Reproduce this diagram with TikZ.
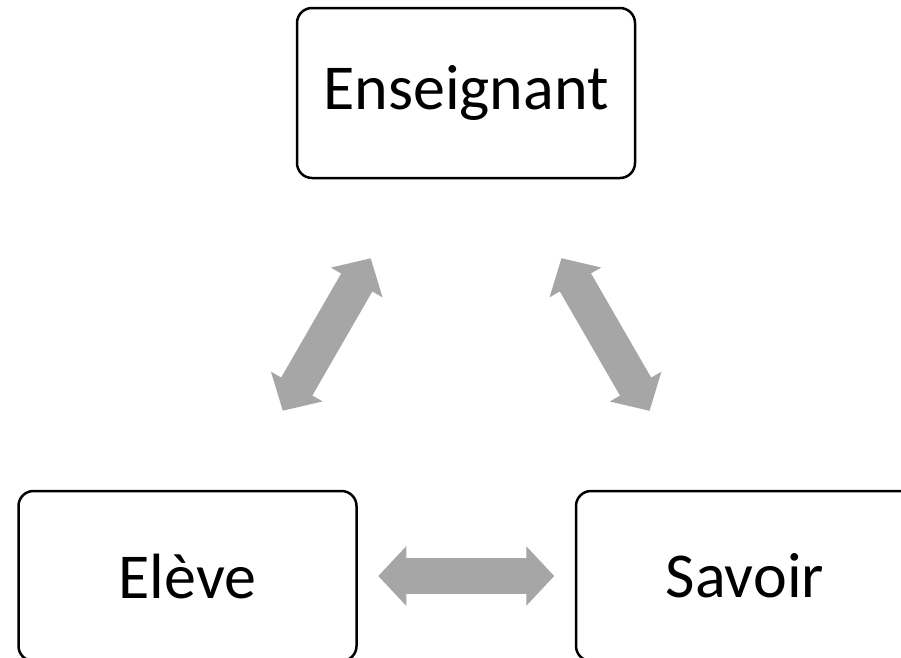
\documentclass[tikz,border=0pt]{standalone}
\usepackage{fontspec}
\setmainfont{Carlito}
\usetikzlibrary{positioning,arrows.meta}
\definecolor{arrgray}{HTML}{A6A6A6}
\tikzstyle{tbox}=[rectangle, rounded corners=15pt, draw=black, line width=2.5pt, minimum width=338pt, minimum height=170pt, inner sep=0pt, text centered, font=\fontsize{64}{76}\selectfont]
\tikzstyle{garrow}=[draw=arrgray, line width=36pt, {Triangle[width=58pt,length=28pt,fill=arrgray]}-{Triangle[width=58pt,length=28pt,fill=arrgray]}, shorten <=190.75pt, shorten >=190.75pt]

\begin{document}
\begin{tikzpicture}[x=1pt,y=-1pt]
\useasboundingbox (0,0) rectangle (901,657);
\node (ENS) [tbox] at (466,93) {Enseignant};
\node (ELV) [tbox] at (187.5,576) {Elève};
\node (SAV) [tbox,right=217pt of ELV] {Savoir};
 \draw[garrow] (ELV.center) -- (ENS.center);
 \draw[garrow] (SAV.center) -- (ENS.center);
 \draw[garrow] (ELV.center) -- (SAV.center);
\end{tikzpicture}
\end{document}
